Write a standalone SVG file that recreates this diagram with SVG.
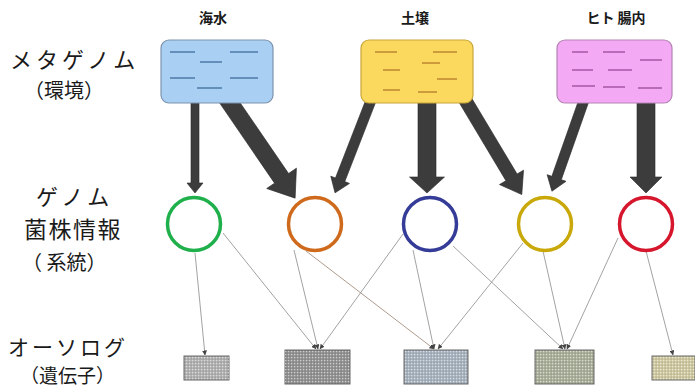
<svg xmlns="http://www.w3.org/2000/svg" width="695" height="392" viewBox="0 0 695 392">
<defs>
<style>
.lbl{font-family:"Noto Sans CJK JP","Noto Sans",sans-serif;fill:#1a1a1a;}
.side{font-size:22px;letter-spacing:4px;}
.side2{font-size:20px;}
.top{font-size:14px;font-weight:bold;text-anchor:middle;}
.thick{fill:#3c3c3c;stroke:#2a2a2a;stroke-width:0.6;}
.thin{stroke:#8a8a8a;stroke-width:0.8;fill:none;marker-end:url(#sm);}
.ring{fill:none;stroke-width:3.5;}
.dash{stroke-width:1.3;fill:none;}
.orth{stroke:#6a6a6a;stroke-width:1;}
</style>
<marker id="sm" viewBox="0 0 6 6" refX="5.5" refY="3" markerWidth="5" markerHeight="5" orient="auto" markerUnits="userSpaceOnUse">
<path d="M0,0 L6,3 L0,6 z" fill="#444"/>
</marker>
<pattern id="dots" patternUnits="userSpaceOnUse" width="3" height="3">
<rect x="0" y="0" width="1.2" height="1.2" fill="#ffffff" fill-opacity="0.55"/>
<rect x="1.5" y="1.5" width="1.2" height="1.2" fill="#000000" fill-opacity="0.18"/>
</pattern>
</defs>
<rect width="695" height="392" fill="#ffffff"/>

<g id="side-labels" class="lbl">
<text class="side" x="10" y="68">メタゲノム</text>
<text class="side2" x="24" y="98">（環境）</text>
<text class="side" x="36" y="205">ゲノム</text>
<text class="side" x="24" y="238" style="font-size:23px;letter-spacing:1.5px">菌株情報</text>
<text class="side2" x="22" y="270">（ 系統）</text>
<text class="side" x="8" y="355" style="font-size:21px;letter-spacing:3px">オーソログ</text>
<text class="side2" x="20" y="383" style="font-size:19px">（遺伝子）</text>
</g>

<g id="connectors">
<g transform="translate(195,95) rotate(90)"><polygon class="thick" points="0,-4 88,-4 88,-8 98,0 88,8 88,4 0,4"/></g>
<g transform="translate(224.5,95) rotate(55.6)"><polygon class="thick" points="0,-8.5 101,-8.5 101,-18 125,0 101,18 101,8.5 0,8.5"/></g>
<g transform="translate(373.1,95) rotate(111.25)"><polygon class="thick" points="0,-5 91,-5 91,-10 105,0 91,10 91,5 0,5"/></g>
<g transform="translate(427,95) rotate(90)"><polygon class="thick" points="0,-9 82,-9 82,-17.5 98,0 82,17.5 82,9 0,9"/></g>
<g transform="translate(462.2,95) rotate(59.1)"><polygon class="thick" points="0,-6.5 96,-6.5 96,-14 116,0 96,14 96,6.5 0,6.5"/></g>
<g transform="translate(585.8,95) rotate(109.4)"><polygon class="thick" points="0,-5 88,-5 88,-10 102,0 88,10 88,5 0,5"/></g>
<g transform="translate(646,95) rotate(90)"><polygon class="thick" points="0,-9 82,-9 82,-16 98,0 82,16 82,9 0,9"/></g>

<line class="thin" x1="195" y1="253" x2="205" y2="355"/>
<line class="thin" x1="223" y1="233" x2="316" y2="349"/>
<line class="thin" x1="294" y1="250" x2="318" y2="349"/>
<line class="thin" x1="306" y1="251" x2="434" y2="349" style="stroke:#9a8170"/>
<line class="thin" x1="403" y1="234" x2="320" y2="349"/>
<line class="thin" x1="413" y1="250" x2="434" y2="349"/>
<line class="thin" x1="453" y1="246" x2="563" y2="349"/>
<line class="thin" x1="523" y1="243" x2="438" y2="349"/>
<line class="thin" x1="543" y1="251" x2="565" y2="349"/>
<line class="thin" x1="618" y1="238" x2="567" y2="349"/>
<line class="thin" x1="646" y1="251" x2="673" y2="355"/>
</g>

<g id="env-seawater">
<text class="lbl top" x="213" y="23">海水</text>
<rect x="161" y="40" width="112" height="63" rx="8" fill="#a9cff2" stroke="#7d93ad" stroke-width="1.2"/>
<g class="dash" stroke="#3f6c9c">
<line x1="170" y1="52" x2="195" y2="52"/><line x1="230" y1="52" x2="258" y2="52"/>
<line x1="200" y1="62" x2="222" y2="62"/>
<line x1="170" y1="78" x2="195" y2="78"/><line x1="230" y1="78" x2="258" y2="78"/>
<line x1="197" y1="88" x2="222" y2="88"/>
</g>
</g>

<g id="env-soil">
<text class="lbl top" x="415" y="23">土壌</text>
<rect x="361" y="40" width="112" height="63" rx="8" fill="#fbd85e" stroke="#caa63a" stroke-width="1.2"/>
<g class="dash" stroke="#b07a2a">
<line x1="375" y1="52" x2="397" y2="52"/><line x1="433" y1="52" x2="457" y2="52"/>
<line x1="422" y1="63" x2="440" y2="63"/>
<line x1="383" y1="70" x2="400" y2="70"/>
<line x1="437" y1="79" x2="457" y2="79"/>
<line x1="383" y1="90" x2="400" y2="90"/><line x1="418" y1="92" x2="437" y2="92"/>
</g>
</g>

<g id="env-gut">
<text class="lbl top" x="616" y="23">ヒト 腸内</text>
<rect x="557" y="40" width="115" height="63" rx="8" fill="#f3a9f3" stroke="#b584b5" stroke-width="1.2"/>
<g class="dash" stroke="#9a4a9a">
<line x1="572" y1="52" x2="588" y2="52"/><line x1="603" y1="52" x2="625" y2="52"/>
<line x1="640" y1="60" x2="662" y2="60"/>
<line x1="572" y1="70" x2="593" y2="70"/><line x1="608" y1="70" x2="632" y2="70"/>
<line x1="572" y1="86" x2="595" y2="86"/><line x1="603" y1="87" x2="625" y2="87"/><line x1="638" y1="88" x2="662" y2="88"/>
</g>
</g>

<g id="strain-green"><circle class="ring" cx="194" cy="224" r="26.5" stroke="#1fb04c"/></g>
<g id="strain-orange"><circle class="ring" cx="315" cy="224" r="26.5" stroke="#cf6a1c"/></g>
<g id="strain-blue"><circle class="ring" cx="430" cy="224" r="26.5" stroke="#343c98"/></g>
<g id="strain-yellow"><circle class="ring" cx="545" cy="224" r="26.5" stroke="#c9a80a"/></g>
<g id="strain-red"><circle class="ring" cx="646" cy="224" r="26.5" stroke="#d5162c"/></g>

<g id="ortho-1"><rect class="orth" x="184" y="356" width="45" height="24" fill="#b2b2b2"/><rect x="184" y="356" width="45" height="24" fill="url(#dots)"/></g>
<g id="ortho-2"><rect class="orth" x="285" y="350" width="65" height="34" fill="#939393"/><rect x="285" y="350" width="65" height="34" fill="url(#dots)"/></g>
<g id="ortho-3"><rect class="orth" x="404" y="350" width="64" height="34" fill="#a8b4c0"/><rect x="404" y="350" width="64" height="34" fill="url(#dots)"/></g>
<g id="ortho-4"><rect class="orth" x="535" y="350" width="59" height="34" fill="#aab09a"/><rect x="535" y="350" width="59" height="34" fill="url(#dots)"/></g>
<g id="ortho-5"><rect class="orth" x="652" y="356" width="43" height="24" fill="#d0caa2"/><rect x="652" y="356" width="43" height="24" fill="url(#dots)"/></g>
</svg>
